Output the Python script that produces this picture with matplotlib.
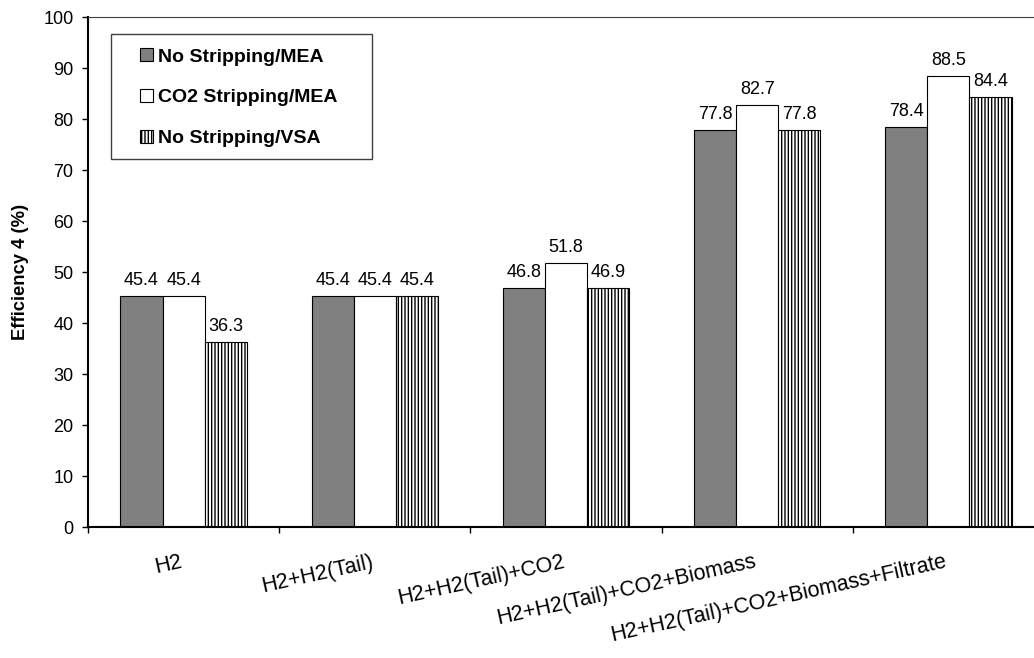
import numpy as np
import matplotlib.pyplot as plt
from matplotlib.patches import Rectangle
from matplotlib.transforms import ScaledTranslation

categories = ['H2', 'H2+H2(Tail)', 'H2+H2(Tail)+CO2', 'H2+H2(Tail)+CO2+Biomass',
              'H2+H2(Tail)+CO2+Biomass+Filtrate']
no_strip_mea = [45.4, 45.4, 46.8, 77.8, 78.4]
co2_strip_mea = [45.4, 45.4, 51.8, 82.7, 88.5]
no_strip_vsa = [36.3, 45.4, 46.9, 77.8, 84.4]
series_names = ['No Stripping/MEA', 'CO2 Stripping/MEA', 'No Stripping/VSA']

plt.rcParams['font.family'] = ['Liberation Sans', 'DejaVu Sans']
plt.rcParams['hatch.linewidth'] = 1.0

fig = plt.figure(figsize=(10.34, 6.58), dpi=100)
# plot area runs a bit past the right edge, like the original
ax = fig.add_axes([0.0851, 0.199, 0.9246, 0.775])

x = np.arange(len(categories))
w = 0.22
b1 = ax.bar(x - w, no_strip_mea, w, color='#808080', edgecolor='black', lw=0.8, label=series_names[0])
b2 = ax.bar(x, co2_strip_mea, w, color='white', edgecolor='black', lw=0.8, label=series_names[1])
b3 = ax.bar(x + w, no_strip_vsa, w, color='white', edgecolor='black', lw=0.8, hatch='|||||',
            label=series_names[2])

for bars in (b1, b2, b3):
    ax.bar_label(bars, fmt='%.1f', padding=5, fontsize=13)

ax.set_xlim(-0.5, len(categories) - 0.5)
ax.set_ylim(0, 100)
ax.set_yticks(np.arange(0, 101, 10))
ax.tick_params(axis='y', direction='out', length=4.5, width=1, labelsize=13, pad=6)

# ticks at category boundaries, labels at centres
ax.set_xticks(np.arange(-0.5, len(categories), 1.0))
ax.set_xticklabels([])
ax.set_xticks(x, minor=True)
ax.set_xticklabels(categories, minor=True, fontsize=15.5)
ax.tick_params(axis='x', which='major', direction='out', length=4.5, width=1)
ax.tick_params(axis='x', which='minor', length=0, pad=17.5)
shift = ScaledTranslation(-0.04, 0, fig.dpi_scale_trans)
for lab in ax.get_xticklabels(minor=True):
    lab.set_rotation(12.5)
    lab.set_ha('right')
    lab.set_rotation_mode('anchor')
    lab.set_transform(lab.get_transform() + shift)

ax.set_ylabel('Efficiency 4 (%)', fontsize=13.2, fontweight='bold', labelpad=10)

ax.spines['left'].set_linewidth(1.5)
ax.spines['bottom'].set_linewidth(1.5)
ax.spines['top'].set_linewidth(0.8)
ax.spines['top'].set_color('#404040')
ax.spines['right'].set_visible(False)

leg = ax.legend(loc='upper left', bbox_to_anchor=(0.0544, 0.939), frameon=False,
                prop={'weight': 'bold', 'size': 14},
                handlelength=0.65, handleheight=0.65, handletextpad=0.25,
                labelspacing=1.21, borderpad=0, borderaxespad=0)
# legend frame drawn separately: wider side padding than top/bottom
ax.add_patch(Rectangle((0.0241, 0.7216), 0.273, 0.245, transform=ax.transAxes,
                       fill=False, edgecolor='#404040', lw=1.0, zorder=5))

fig.savefig('out.png', dpi=100)
